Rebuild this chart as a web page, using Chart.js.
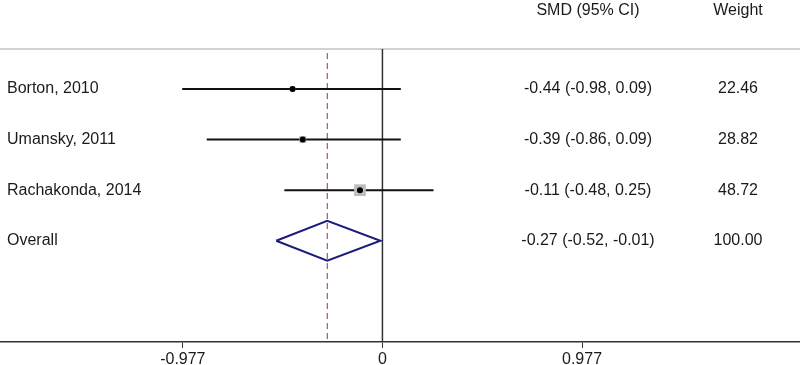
<!DOCTYPE html>
<html>
<head>
<meta charset="utf-8">
<script src="https://cdn.jsdelivr.net/npm/chart.js@4.4.0/dist/chart.umd.min.js"></script>
<style>
  body { margin: 0; background: #fff; }
  #wrap { width: 800px; height: 365px; position: relative; }
</style>
</head>
<body>
<div id="wrap"><canvas id="chart-area"></canvas></div>
<script>
// forest plot data
const studies = ['Borton, 2010', 'Umansky, 2011', 'Rachakonda, 2014'];
const smd = [-0.44, -0.39, -0.11];
const lower = [-0.98, -0.86, -0.48];
const upper = [0.09, 0.09, 0.25];
const weights = [22.46, 28.82, 48.72];

const overallLabel = 'Overall';
const overallSmd = -0.27;
const overallLower = -0.52;
const overallUpper = -0.01;
const overallWeight = 100.00;

const tickValues = [-0.977, 0, 0.977];
const tickLabels = ['-0.977', '0', '0.977'];

const FONT = '"Liberation Sans", Arial, sans-serif';
const Y_MIN = 0.21, Y_MAX = 6.0;
const rows = studies.map((s, i) => i + 1);
const overallRow = studies.length + 1;

const ciDatasets = studies.map((s, i) => ({
  type: 'line',
  data: [{x: lower[i], y: rows[i]}, {x: upper[i], y: rows[i]}],
  borderColor: '#111',
  borderWidth: 2,
  pointRadius: 0,
  order: 3
}));

const textPlugin = {
  id: 'forestText',
  beforeDraw(chart) {
    const {ctx, chartArea} = chart;
    ctx.save();
    ctx.strokeStyle = '#d2d2d2';
    ctx.lineWidth = 2;
    ctx.beginPath();
    ctx.moveTo(0, chartArea.top);
    ctx.lineTo(chart.width, chartArea.top);
    ctx.stroke();
    ctx.restore();
  },
  afterDraw(chart) {
    const {ctx} = chart;
    const y = chart.scales.y;
    ctx.save();
    ctx.font = '16px ' + FONT;
    ctx.fillStyle = '#1a1a1a';
    ctx.textBaseline = 'middle';
    ctx.textAlign = 'center';
    ctx.fillText('SMD (95% CI)', 588, 11);
    ctx.fillText('Weight', 738, 11);

    const names = studies.concat([overallLabel]);
    const est = smd.concat([overallSmd]);
    const lo = lower.concat([overallLower]);
    const hi = upper.concat([overallUpper]);
    const w = weights.concat([overallWeight]);
    names.forEach((n, i) => {
      const py = y.getPixelForValue(i + 1);
      ctx.textAlign = 'left';
      ctx.fillText(n, 7, py);
      ctx.textAlign = 'center';
      ctx.fillText(est[i].toFixed(2) + ' (' + lo[i].toFixed(2) + ', ' + hi[i].toFixed(2) + ')', 588, py);
      ctx.fillText(w[i].toFixed(2), 738, py);
    });
    ctx.restore();
  }
};

const ctx = document.getElementById('chart-area').getContext('2d');
const chart = new Chart(ctx, {
  type: 'scatter',
  data: {
    datasets: [
      {
        type: 'scatter',
        data: smd.map((v, i) => ({x: v, y: rows[i]})),
        pointStyle: 'circle',
        pointRadius: 3,
        backgroundColor: '#000',
        borderWidth: 0,
        order: 1
      },
      {
        type: 'scatter',
        data: smd.map((v, i) => ({x: v, y: rows[i]})),
        pointStyle: 'rect',
        pointRadius: weights.map(w => w * 0.17),
        backgroundColor: '#bdbdbd',
        borderWidth: 0,
        order: 2
      },
      ...ciDatasets,
      {
        type: 'line',
        data: [
          {x: overallLower, y: overallRow},
          {x: overallSmd, y: overallRow - 0.395},
          {x: overallUpper, y: overallRow},
          {x: overallSmd, y: overallRow + 0.395},
          {x: overallLower, y: overallRow}
        ],
        borderColor: '#1c1c7e',
        borderWidth: 2,
        pointRadius: 0,
        tension: 0,
        order: 3
      },
      {
        type: 'line',
        data: [{x: 0, y: Y_MIN}, {x: 0, y: Y_MAX}],
        borderColor: '#333',
        borderWidth: 1.5,
        pointRadius: 0,
        order: 5
      },
      {
        type: 'line',
        data: [{x: overallSmd, y: Y_MIN + 0.08}, {x: overallSmd, y: Y_MAX}],
        borderColor: '#8c3a4c',
        borderWidth: 1,
        borderDash: [6, 4],
        pointRadius: 0,
        order: 4
      }
    ]
  },
  options: {
    responsive: true,
    maintainAspectRatio: false,
    animation: false,
    layout: { autoPadding: false, padding: { top: 49, left: 0, right: 0, bottom: 0 } },
    plugins: {
      legend: { display: false },
      tooltip: { enabled: false }
    },
    scales: {
      x: {
        type: 'linear',
        min: -1.872,
        max: 2.044,
        afterBuildTicks(scale) {
          scale.ticks = tickValues.map(v => ({value: v}));
        },
        afterFit(scale) {
          scale.height = 23;
        },
        ticks: {
          autoSkip: false,
          maxRotation: 0,
          padding: 2,
          color: '#1a1a1a',
          font: { family: FONT, size: 16 },
          callback(value) {
            const i = tickValues.indexOf(value);
            return i >= 0 ? tickLabels[i] : '';
          }
        },
        grid: {
          drawOnChartArea: false,
          tickLength: 6,
          color: '#333'
        },
        border: { color: '#333', width: 1.5 }
      },
      y: {
        type: 'linear',
        display: false,
        reverse: true,
        min: Y_MIN,
        max: Y_MAX
      }
    }
  },
  plugins: [textPlugin]
});
</script>
</body>
</html>
